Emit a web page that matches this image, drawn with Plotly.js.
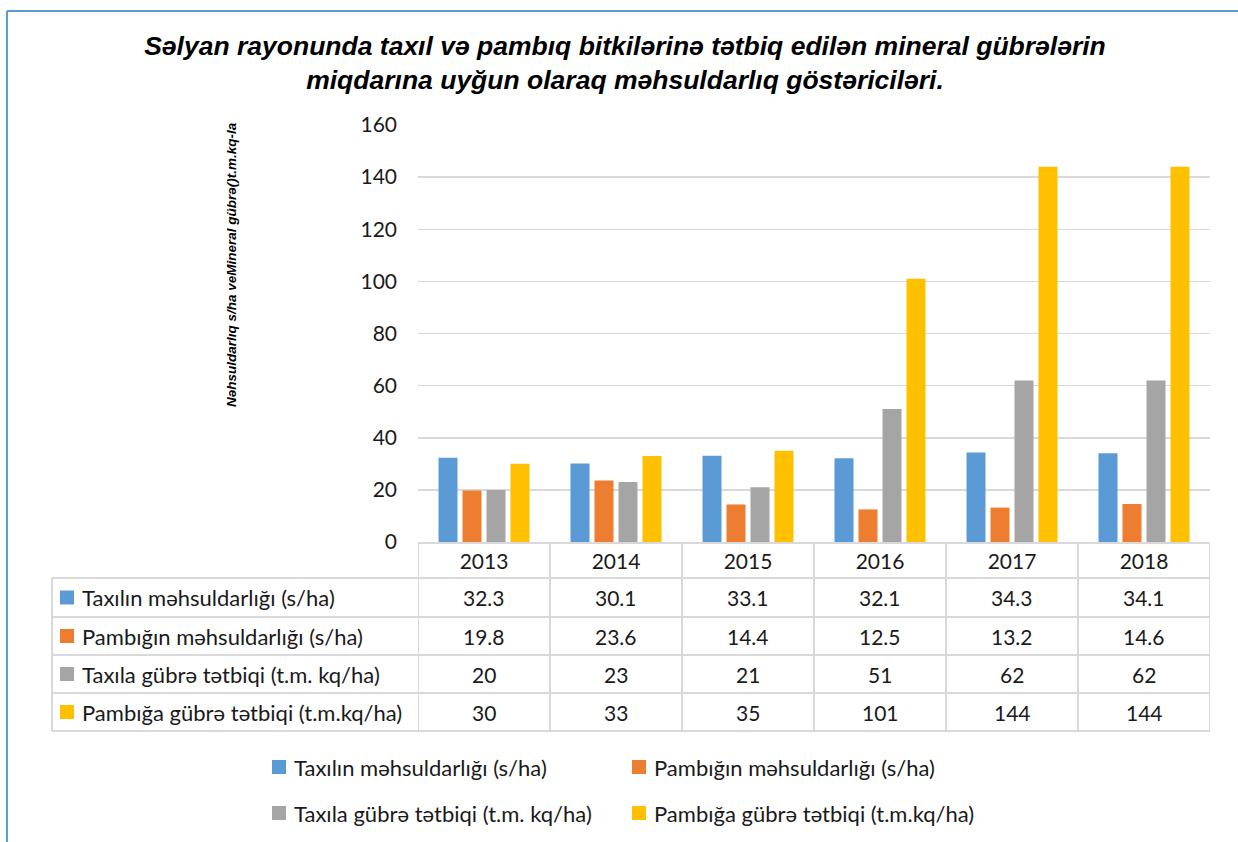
<!DOCTYPE html>
<html>
<head>
<meta charset="utf-8">
<script src="https://cdn.plot.ly/plotly-3.0.1.min.js"></script>
<style>html,body{margin:0;padding:0;background:#fff;}#chart{width:1238px;height:842px;}</style>
</head>
<body>
<div id="chart"></div>
<script>
// ---- data ----
const years = ['2013', '2014', '2015', '2016', '2017', '2018'];
const taxilMehsul = [32.3, 30.1, 33.1, 32.1, 34.3, 34.1];
const pambigMehsul = [19.8, 23.6, 14.4, 12.5, 13.2, 14.6];
const taxilGubre = [20, 23, 21, 51, 62, 62];
const pambigGubre = [30, 33, 35, 101, 144, 144];
const seriesNames = [
  'Taxılın məhsuldarlığı (s/ha)',
  'Pambığın məhsuldarlığı (s/ha)',
  'Taxıla gübrə tətbiqi (t.m. kq/ha)',
  'Pambığa gübrə tətbiqi (t.m.kq/ha)'
];
const yTicks = [0, 20, 40, 60, 80, 100, 120, 140, 160];
const titleText = 'Səlyan rayonunda taxıl və pambıq bitkilərinə tətbiq edilən mineral gübrələrin<br>miqdarına uyğun olaraq məhsuldarlıq göstəriciləri.';
const yTitleText = 'Nəhsuldarlıq s/ha veMineral gübrə()t.m.kq-la';

// ---- style ----
const W = 1238, H = 842;
const colors = ['#5B9BD5', '#ED7D31', '#A5A5A5', '#FFC000'];
const px = x => x / W;
const py = y => 1 - y / H;
const FONT = 'Lato, "Open Sans", sans-serif';
const FS = 21;      // numbers
const FS_LBL = 22;  // series labels
const TXT = '#1a1a1a';
const LINE = '#d9d9d9';

const allSeries = [taxilMehsul, pambigMehsul, taxilGubre, pambigGubre];
const traces = allSeries.map((vals, i) => ({
  type: 'bar',
  name: seriesNames[i],
  x: years,
  y: vals,
  marker: {color: colors[i], line: {width: 0}},
  hoverinfo: 'x+y+name'
}));

// table geometry (pixels)
const tableLeft = 52, plotLeft = 418, plotRight = 1210;
const rowLines = [578, 617, 655, 693, 731];
const headerTop = 542;

const shapes = [];
const annotations = [];

// frame lines (blue)
shapes.push({type: 'line', xref: 'paper', yref: 'paper', x0: px(7), x1: px(7), y0: py(11), y1: py(842), line: {color: '#5B9BD5', width: 2}});
shapes.push({type: 'line', xref: 'paper', yref: 'paper', x0: px(7), x1: px(1238), y0: py(11), y1: py(11), line: {color: '#5B9BD5', width: 2}});

// horizontal table lines
rowLines.forEach(y => shapes.push({type: 'line', xref: 'paper', yref: 'paper', x0: px(tableLeft), x1: px(plotRight), y0: py(y), y1: py(y), line: {color: LINE, width: 2}}));
// vertical table lines
shapes.push({type: 'line', xref: 'paper', yref: 'paper', x0: px(tableLeft), x1: px(tableLeft), y0: py(rowLines[0]), y1: py(rowLines[4]), line: {color: LINE, width: 2}});
for (let i = 0; i <= years.length; i++) {
  shapes.push({type: 'line', xref: 'x', yref: 'paper', x0: i - 0.5, x1: i - 0.5, y0: py(headerTop), y1: py(rowLines[4]), line: {color: LINE, width: 2}});
}

// row labels with keys, and table values
seriesNames.forEach((name, i) => {
  const cy = (rowLines[i] + rowLines[i + 1]) / 2;
  shapes.push({type: 'rect', xref: 'paper', yref: 'paper', x0: px(60), x1: px(74), y0: py(cy - 7), y1: py(cy + 7), fillcolor: colors[i], line: {width: 0}});
  annotations.push({xref: 'paper', yref: 'paper', x: px(80), y: py(cy), xanchor: 'left', yanchor: 'middle', text: name, showarrow: false, font: {family: FONT, size: FS_LBL, color: TXT}});
  allSeries[i].forEach((v, j) => {
    annotations.push({xref: 'x', yref: 'paper', x: j, y: py(cy), xanchor: 'center', yanchor: 'middle', text: String(v), showarrow: false, font: {family: FONT, size: FS, color: TXT}});
  });
});

// bottom legend
const legPos = [[272, 767], [632, 767], [272, 813], [632, 813]];
seriesNames.forEach((name, i) => {
  const [lx, ly] = legPos[i];
  shapes.push({type: 'rect', xref: 'paper', yref: 'paper', x0: px(lx), x1: px(lx + 14), y0: py(ly - 7), y1: py(ly + 7), fillcolor: colors[i], line: {width: 0}});
  annotations.push({xref: 'paper', yref: 'paper', x: px(lx + 20), y: py(ly), xanchor: 'left', yanchor: 'middle', text: name, showarrow: false, font: {family: FONT, size: FS_LBL, color: TXT}});
});

// y axis title
annotations.push({xref: 'paper', yref: 'paper', x: px(231), y: py(265), xanchor: 'center', yanchor: 'middle', textangle: -90, text: yTitleText, showarrow: false, font: {family: '"Liberation Sans", Arial, sans-serif', size: 13.5, color: '#000', weight: 'bold', style: 'italic'}});

const layout = {
  width: W, height: H,
  margin: {l: 0, r: 0, t: 0, b: 0, pad: 0},
  paper_bgcolor: '#fff', plot_bgcolor: 'rgba(0,0,0,0)',
  showlegend: false,
  barmode: 'group',
  bargap: 0.273,
  bargroupgap: 0.208,
  title: {
    text: titleText,
    x: 625 / W, xanchor: 'center', xref: 'paper',
    y: py(55), yanchor: 'middle', yref: 'container',
    font: {family: '"Liberation Sans", Arial, sans-serif', size: 26.5, color: '#000', weight: 'bold', style: 'italic'}
  },
  xaxis: {
    type: 'category',
    domain: [px(plotLeft), px(plotRight)],
    range: [-0.5, years.length - 0.5],
    showgrid: false, zeroline: false,
    showline: true, linecolor: LINE, linewidth: 2,
    ticks: '', tickfont: {family: FONT, size: FS, color: TXT},
    automargin: false, fixedrange: true
  },
  yaxis: {
    domain: [py(542), py(125)],
    range: [0, 160],
    tickvals: yTicks,
    showgrid: true, gridcolor: LINE, gridwidth: 1.5,
    zeroline: false, showline: false,
    ticks: '', ticklabelstandoff: 20,
    tickfont: {family: FONT, size: FS, color: TXT},
    automargin: false, fixedrange: true
  },
  shapes: shapes,
  annotations: annotations
};

Plotly.newPlot('chart', traces, layout, {displayModeBar: false, staticPlot: true});
</script>
</body>
</html>
